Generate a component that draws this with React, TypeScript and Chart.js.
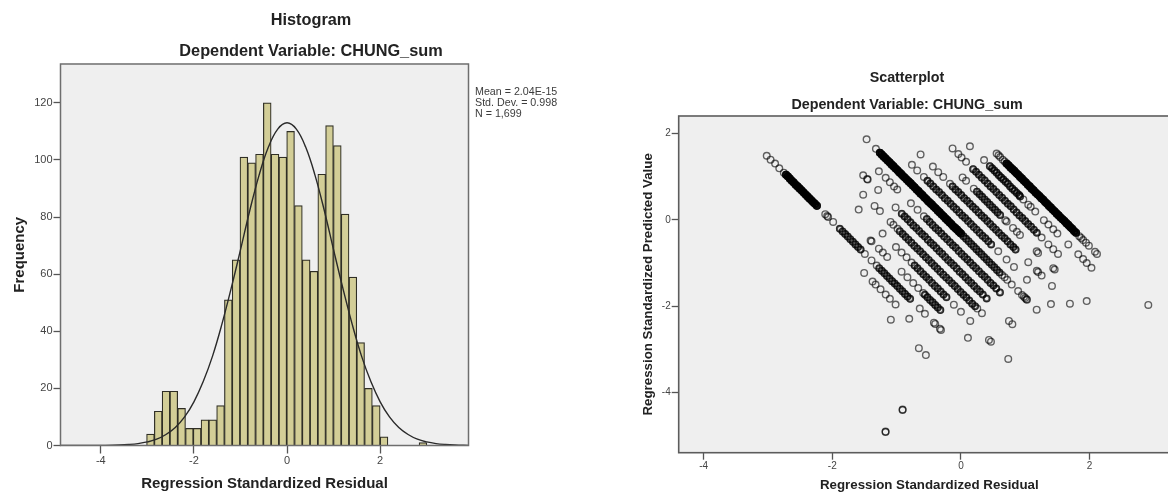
import React, { useEffect, useRef } from "react";
import { Chart, registerables } from "chart.js";

Chart.register(...registerables);

const FONT = "'Liberation Sans', Arial, sans-serif";

// Histogram data
const binCenters = [-2.933, -2.766, -2.599, -2.432, -2.264, -2.097, -1.93, -1.763, -1.596, -1.428, -1.261, -1.094, -0.927, -0.76, -0.592, -0.425, -0.258, -0.091, 0.076, 0.244, 0.411, 0.578, 0.745, 0.912, 1.08, 1.247, 1.414, 1.581, 1.748, 1.916, 2.083, 2.919];
const binCounts = [4, 12, 19, 19, 13, 6, 6, 9, 9, 14, 51, 65, 101, 99, 102, 120, 102, 101, 110, 84, 65, 61, 95, 112, 105, 81, 59, 36, 20, 14, 3, 1];
const curveX = [-4.87, -4.2, -3.9, -3.6, -3.4, -3.2, -3, -2.8, -2.6, -2.4, -2.2, -2, -1.8, -1.6, -1.4, -1.2, -1, -0.8, -0.6, -0.4, -0.2, 0, 0.2, 0.4, 0.6, 0.8, 1, 1.2, 1.4, 1.6, 1.8, 2, 2.2, 2.4, 2.6, 2.8, 3, 3.2, 3.4, 3.6, 3.9];
const curveY = [0, 0.02, 0.05, 0.17, 0.35, 0.67, 1.25, 2.2, 3.85, 6.3, 10, 15.3, 22.4, 31.3, 42.4, 55, 68.5, 82.3, 94.7, 104.5, 110.8, 113, 110.8, 104.5, 94.7, 82.3, 68.5, 55, 42.4, 31.3, 22.4, 15.3, 10, 6.3, 3.85, 2.2, 1.25, 0.67, 0.35, 0.17, 0.05];
const histYTicks = [0, 20, 40, 60, 80, 100, 120];
const residualTicks = [-4, -2, 0, 2];
const statLines = ["Mean = 2.04E-15", "Std. Dev. = 0.998", "N = 1,699"];

// Scatterplot data: [residual, predicted], read band by band
const bandA: number[][] = [[-3.02,1.48],[-2.96,1.39],[-2.89,1.3],[-2.825,1.19],[-2.754,1.09],[-2.72,1.04],[-2.69,1],[-2.66,0.95],[-2.63,0.9],[-2.6,0.86],[-2.57,0.81],[-2.54,0.77],[-2.51,0.725],[-2.48,0.68],[-2.45,0.635],[-2.42,0.59],[-2.39,0.546],[-2.36,0.5],[-2.33,0.457],[-2.3,0.41],[-2.27,0.368],[-2.24,0.323],[-2.11,0.13],[-2.08,0.085],[-2.065,0.063],[-1.987,-0.05],[-1.883,-0.21],[-1.84,-0.27],[-1.8,-0.33],[-1.76,-0.39],[-1.72,-0.45],[-1.68,-0.51],[-1.64,-0.57],[-1.6,-0.63],[-1.56,-0.69],[-1.494,-0.79],[-1.39,-0.94],[-1.31,-1.06],[-1.27,-1.12],[-1.23,-1.18],[-1.19,-1.24],[-1.15,-1.3],[-1.11,-1.36],[-1.07,-1.42],[-1.03,-1.475],[-0.99,-1.535],[-0.95,-1.595],[-0.91,-1.655],[-0.87,-1.715],[-0.83,-1.775],[-0.79,-1.83],[-0.64,-2.055],[-0.56,-2.175],[-0.42,-2.38],[-0.4,-2.41],[-0.327,-2.52],[-0.31,-2.55]];
const bandB: number[][] = [[-1.405,-0.48],[-1.39,-0.5],[-1.276,-0.67],[-1.214,-0.76],[-1.147,-0.86],[-0.923,-1.2],[-0.832,-1.33],[-0.742,-1.465],[-0.664,-1.58],[-0.587,-1.695],[-0.56,-1.735],[-0.52,-1.795],[-0.48,-1.855],[-0.44,-1.91],[-0.4,-1.97],[-0.36,-2.03],[-0.32,-2.09],[0.109,-2.73]];
const bandC: number[][] = [[-1.59,0.235],[-1.218,-0.32],[-1.01,-0.63],[-0.923,-0.76],[-0.845,-0.87],[-0.767,-0.99],[-0.72,-1.06],[-0.675,-1.12],[-0.63,-1.19],[-0.585,-1.26],[-0.54,-1.325],[-0.495,-1.39],[-0.45,-1.46],[-0.405,-1.53],[-0.36,-1.59],[-0.315,-1.66],[-0.27,-1.73],[-0.225,-1.79],[-0.11,-1.965],[0,-2.13],[0.145,-2.34],[0.436,-2.78],[0.467,-2.82],[0.736,-3.22]];
const bandD: number[][] = [[-1.52,0.58],[-1.343,0.32],[-1.26,0.2],[-1.094,-0.05],[-1.05,-0.115],[-0.985,-0.21],[-0.95,-0.265],[-0.905,-0.33],[-0.86,-0.4],[-0.815,-0.465],[-0.77,-0.53],[-0.725,-0.6],[-0.68,-0.665],[-0.635,-0.73],[-0.59,-0.8],[-0.545,-0.87],[-0.5,-0.93],[-0.455,-1],[-0.41,-1.07],[-0.365,-1.135],[-0.32,-1.2],[-0.275,-1.27],[-0.23,-1.335],[-0.185,-1.4],[-0.14,-1.47],[-0.095,-1.535],[-0.05,-1.6],[-0.005,-1.67],[0.04,-1.735],[0.085,-1.8],[0.13,-1.87],[0.175,-1.94],[0.22,-2],[0.254,-2.055],[0.327,-2.16]];
const bandE: number[][] = [[-1.52,1.03],[-1.458,0.94],[-1.45,0.93],[-1.287,0.69],[-1.016,0.285],[-0.92,0.14],[-0.875,0.075],[-0.83,0.01],[-0.785,-0.06],[-0.74,-0.13],[-0.695,-0.19],[-0.65,-0.26],[-0.605,-0.33],[-0.56,-0.39],[-0.515,-0.46],[-0.47,-0.53],[-0.425,-0.59],[-0.38,-0.66],[-0.335,-0.73],[-0.29,-0.79],[-0.245,-0.86],[-0.2,-0.93],[-0.155,-0.995],[-0.11,-1.06],[-0.065,-1.13],[-0.02,-1.2],[0.025,-1.26],[0.07,-1.33],[0.115,-1.4],[0.16,-1.46],[0.205,-1.53],[0.25,-1.6],[0.295,-1.66],[0.34,-1.73],[0.4,-1.82],[0.747,-2.34],[0.8,-2.415]];
const bandF: number[][] = [[-1.276,1.12],[-1.17,0.97],[-1.105,0.87],[-1.04,0.77],[-0.99,0.7],[-0.778,0.38],[-0.674,0.23],[-0.576,0.08],[-0.53,0.015],[-0.485,-0.05],[-0.44,-0.12],[-0.395,-0.19],[-0.35,-0.25],[-0.305,-0.32],[-0.26,-0.39],[-0.215,-0.45],[-0.17,-0.52],[-0.125,-0.59],[-0.08,-0.65],[-0.035,-0.72],[0.01,-0.79],[0.055,-0.855],[0.1,-0.92],[0.145,-0.99],[0.19,-1.06],[0.235,-1.12],[0.28,-1.19],[0.325,-1.26],[0.37,-1.32],[0.415,-1.39],[0.46,-1.46],[0.505,-1.52],[0.55,-1.59],[0.607,-1.68]];
const bandG: number[][] = [[-1.467,1.86],[-1.322,1.64],[-1.26,1.55],[-1.23,1.505],[-1.2,1.46],[-1.17,1.415],[-1.14,1.37],[-1.11,1.33],[-1.08,1.28],[-1.05,1.24],[-1.02,1.19],[-0.99,1.15],[-0.96,1.1],[-0.93,1.06],[-0.9,1.01],[-0.87,0.97],[-0.84,0.925],[-0.81,0.88],[-0.78,0.84],[-0.75,0.79],[-0.72,0.75],[-0.69,0.7],[-0.66,0.66],[-0.63,0.61],[-0.6,0.57],[-0.57,0.52],[-0.54,0.48],[-0.51,0.43],[-0.48,0.39],[-0.45,0.35],[-0.42,0.3],[-0.39,0.26],[-0.36,0.21],[-0.33,0.17],[-0.3,0.12],[-0.27,0.08],[-0.24,0.03],[-0.21,-0.01],[-0.18,-0.06],[-0.15,-0.1],[-0.12,-0.15],[-0.09,-0.19],[-0.06,-0.23],[-0.03,-0.28],[0,-0.32],[0.04,-0.38],[0.08,-0.44],[0.12,-0.5],[0.16,-0.56],[0.2,-0.62],[0.24,-0.68],[0.28,-0.74],[0.32,-0.8],[0.36,-0.86],[0.4,-0.92],[0.44,-0.98],[0.48,-1.04],[0.52,-1.1],[0.56,-1.16],[0.6,-1.22],[0.64,-1.28],[0.68,-1.33],[0.72,-1.39],[0.79,-1.5],[0.89,-1.65],[0.95,-1.74],[0.98,-1.78],[1,-1.81],[1.02,-1.84],[1.027,-1.85],[1.178,-2.08]];
const bandH: number[][] = [[-0.762,1.27],[-0.68,1.14],[-0.576,0.99],[-0.52,0.9],[-0.475,0.84],[-0.43,0.77],[-0.385,0.7],[-0.34,0.64],[-0.295,0.57],[-0.25,0.5],[-0.205,0.44],[-0.16,0.37],[-0.115,0.3],[-0.07,0.24],[-0.025,0.17],[0.02,0.1],[0.065,0.04],[0.11,-0.03],[0.155,-0.1],[0.2,-0.17],[0.245,-0.23],[0.29,-0.3],[0.335,-0.37],[0.38,-0.43],[0.425,-0.5],[0.47,-0.57],[0.58,-0.73],[0.71,-0.92],[0.825,-1.09],[1.027,-1.39],[1.4,-1.95]];
const bandI: number[][] = [[-0.627,1.51],[-0.436,1.23],[-0.353,1.1],[-0.275,0.99],[-0.17,0.83],[-0.13,0.77],[-0.085,0.7],[-0.04,0.64],[0.005,0.57],[0.05,0.5],[0.095,0.44],[0.14,0.37],[0.185,0.3],[0.23,0.24],[0.275,0.17],[0.32,0.1],[0.365,0.04],[0.41,-0.03],[0.455,-0.1],[0.5,-0.17],[0.545,-0.23],[0.59,-0.3],[0.635,-0.37],[0.68,-0.43],[0.725,-0.5],[0.77,-0.57],[0.815,-0.63],[0.85,-0.69],[1.047,-0.98],[1.18,-1.18],[1.2,-1.21],[1.255,-1.29],[1.416,-1.53],[1.695,-1.94]];
const bandJ: number[][] = [[0.026,0.98],[0.08,0.9],[0.2,0.72],[0.25,0.65],[0.29,0.59],[0.33,0.53],[0.37,0.47],[0.41,0.41],[0.45,0.35],[0.49,0.29],[0.53,0.23],[0.57,0.17],[0.61,0.11],[0.69,-0.01],[0.71,-0.04],[0.81,-0.19],[0.87,-0.28],[0.918,-0.35],[1.178,-0.73],[1.2,-0.77],[1.436,-1.12],[1.458,-1.15]];
const bandK: number[][] = [[-0.13,1.65],[-0.04,1.52],[0.01,1.44],[0.08,1.34],[0.19,1.17],[0.235,1.11],[0.28,1.04],[0.325,0.97],[0.37,0.91],[0.415,0.84],[0.46,0.77],[0.505,0.71],[0.55,0.64],[0.595,0.57],[0.64,0.51],[0.685,0.44],[0.73,0.37],[0.775,0.31],[0.82,0.24],[0.865,0.17],[0.91,0.1],[0.955,0.04],[1,-0.03],[1.045,-0.1],[1.09,-0.16],[1.135,-0.23],[1.18,-0.3],[1.255,-0.41],[1.36,-0.57],[1.436,-0.68],[1.51,-0.79]];
const bandL: number[][] = [[0.14,1.7],[0.36,1.38],[0.45,1.24],[0.485,1.19],[0.52,1.14],[0.555,1.09],[0.59,1.03],[0.625,0.98],[0.66,0.93],[0.695,0.88],[0.73,0.83],[0.765,0.77],[0.8,0.72],[0.835,0.67],[0.87,0.62],[0.905,0.57],[0.92,0.54],[0.97,0.47],[1.047,0.35],[1.085,0.3],[1.156,0.19],[1.29,-0.01],[1.36,-0.11],[1.436,-0.22],[1.5,-0.32],[1.67,-0.57],[1.825,-0.8],[1.9,-0.91],[1.956,-1],[2.03,-1.11]];
const bandM: number[][] = [[0.555,1.53],[0.585,1.49],[0.61,1.45],[0.65,1.39],[0.68,1.35],[0.71,1.3],[0.74,1.26],[0.77,1.21],[0.8,1.17],[0.83,1.13],[0.86,1.08],[0.89,1.04],[0.92,0.99],[0.95,0.95],[0.98,0.9],[1.01,0.86],[1.04,0.81],[1.07,0.77],[1.1,0.72],[1.13,0.68],[1.16,0.63],[1.19,0.59],[1.22,0.55],[1.25,0.5],[1.28,0.46],[1.31,0.41],[1.34,0.37],[1.37,0.32],[1.4,0.28],[1.43,0.23],[1.46,0.19],[1.49,0.14],[1.52,0.1],[1.55,0.05],[1.58,0.01],[1.61,-0.03],[1.64,-0.08],[1.67,-0.12],[1.7,-0.17],[1.73,-0.21],[1.76,-0.26],[1.79,-0.3],[1.84,-0.38],[1.87,-0.42],[1.9,-0.47],[1.945,-0.53],[1.99,-0.6],[2.085,-0.74],[2.116,-0.79]];
const bandN: number[][] = [[-1.505,-1.23],[-1.374,-1.43],[-1.327,-1.5],[-1.25,-1.61],[-1.17,-1.73],[-1.105,-1.83],[-1.016,-1.96],[-0.804,-2.29]];
const outliers: number[][] = [[-1.09,-2.31],[-0.654,-2.97],[-0.545,-3.13],[1.956,-1.88],[2.914,-1.97],[-0.907,-4.39],[-0.907,-4.4],[-1.172,-4.9],[-1.172,-4.91]];
const scatterBands = [bandA, bandB, bandC, bandD, bandE, bandF, bandG, bandH, bandI, bandJ, bandK, bandL, bandM, bandN, outliers];
// Stretches where many cases overlap: solid black, then mottled
const solidRuns = [bandA.slice(5, 22), bandG.slice(2, 45), bandM.slice(5, 42)];
const mottledRuns = [bandA.slice(26, 35), bandA.slice(38, 51), bandB.slice(10, 17), bandC.slice(6, 18), bandD.slice(6, 33), bandE.slice(5, 35), bandF.slice(8, 34), bandG.slice(45, 60), bandH.slice(3, 26), bandI.slice(5, 28), bandJ.slice(3, 13), bandK.slice(4, 27), bandL.slice(2, 17)];
const predictedTicks = [-4, -2, 0, 2];

const frame = (color: string, width: number) => ({
  id: "frame",
  beforeDraw(c: any) {
    const a = c.chartArea;
    c.ctx.save();
    c.ctx.fillStyle = "#efefef";
    c.ctx.fillRect(a.left, a.top, a.width, a.height);
    c.ctx.restore();
  },
  afterDatasetsDraw(c: any) {
    const a = c.chartArea;
    c.ctx.save();
    c.ctx.strokeStyle = color;
    c.ctx.lineWidth = width;
    c.ctx.strokeRect(a.left, a.top, a.width, a.height);
    c.ctx.restore();
  },
});

const statsText = {
  id: "statsText",
  afterDraw(c: any) {
    const ctx = c.ctx;
    ctx.save();
    ctx.font = `10.7px ${FONT}`;
    ctx.fillStyle = "#3c3c3c";
    ctx.textBaseline = "middle";
    statLines.forEach((t, i) => ctx.fillText(t, c.chartArea.right + 6.5, 91.7 + i * 11.2));
    ctx.restore();
  },
};

function axis(opts: any) {
  return {
    type: "linear",
    min: opts.min,
    max: opts.max,
    offset: false,
    border: { display: false },
    grid: { offset: false, drawOnChartArea: false, drawTicks: true, tickLength: opts.tickLength, tickColor: "#555", tickWidth: 1.3 },
    afterBuildTicks(s: any) {
      s.ticks = opts.ticks.map((value: number) => ({ value }));
    },
    afterFit(s: any) {
      if (opts.width) s.width = opts.width;
      if (opts.height) s.height = opts.height;
    },
    ticks: { autoSkip: false, padding: opts.tickPad, maxRotation: 0, color: "#444", font: { family: FONT, size: opts.tickSize }, callback: (v: number) => String(v) },
    title: { display: true, text: opts.title, color: "#222", padding: opts.titlePad, font: { family: FONT, size: opts.titleSize, weight: "bold", lineHeight: 1.2 } },
  };
}

// Empty strip on the right, so that the chart title stays centred on the whole canvas
function rightStrip(width: number) {
  return {
    type: "linear",
    position: "right",
    display: true,
    grid: { display: false },
    border: { display: false },
    ticks: { display: false },
    afterFit(s: any) {
      s.width = width;
    },
  };
}

function titleOptions(text: string[], size: number, lh: number, top: number, bottom: number) {
  return {
    display: true,
    text,
    color: "#222",
    padding: { top, bottom },
    font: { family: FONT, size, weight: "bold", lineHeight: lh },
  };
}

const toPoints = (runs: number[][][]) => runs.flat().map((p) => ({ x: p[0], y: p[1] }));

export default function App() {
  const histRef = useRef<HTMLCanvasElement>(null);
  const scatRef = useRef<HTMLCanvasElement>(null);

  useEffect(() => {
    const hist = new Chart(histRef.current as any, {
      type: "bar",
      data: {
        datasets: [
          {
            type: "line",
            data: curveX.map((x, i) => ({ x, y: curveY[i] })),
            borderColor: "#2a2a2a",
            borderWidth: 1.4,
            pointRadius: 0,
            tension: 0.4,
            order: 0,
          },
          {
            type: "bar",
            data: binCenters.map((x, i) => ({ x, y: binCounts[i] })),
            backgroundColor: "#d3ce97",
            borderColor: "#2f2e25",
            borderWidth: 1.2,
            categoryPercentage: 1,
            barPercentage: 1,
            order: 1,
          },
        ] as any,
      },
      options: {
        responsive: false,
        animation: false,
        plugins: {
          legend: { display: false },
          tooltip: { enabled: false },
          title: titleOptions(["Histogram", "Dependent Variable: CHUNG_sum"], 16.3, 1.871, 5.75, -2.75),
        },
        scales: {
          x: axis({ min: -4.865, max: 3.897, ticks: residualTicks, tickLength: 8, tickPad: 1, tickSize: 11, height: 47.5, title: "Regression Standardized Residual", titleSize: 15, titlePad: { top: 0, bottom: 0 } }),
          y: axis({ min: 0, max: 133.6, ticks: histYTicks, tickLength: 7, tickPad: 1, tickSize: 11, width: 60.5, title: "Frequency", titleSize: 15, titlePad: { top: 11, bottom: 0 } }),
          strip: rightStrip(153.5),
        },
      } as any,
      plugins: [frame("#6e6e6e", 1.5), statsText],
    });

    const ring = { backgroundColor: "rgba(0,0,0,0)", pointStyle: "circle" };
    const scat = new Chart(scatRef.current as any, {
      type: "scatter",
      data: {
        datasets: [
          { ...ring, data: toPoints(scatterBands), borderColor: "rgba(0,0,0,0.6)", borderWidth: 1.4, pointRadius: 3.3 },
          { ...ring, data: toPoints(mottledRuns), borderColor: "rgba(0,0,0,0.62)", borderWidth: 2, pointRadius: 2.8 },
          { ...ring, data: toPoints(solidRuns), borderColor: "rgba(0,0,0,0.92)", borderWidth: 3.2, pointRadius: 2.5 },
        ],
      },
      options: {
        responsive: false,
        animation: false,
        plugins: {
          legend: { display: false },
          tooltip: { enabled: false },
          title: titleOptions(["Scatterplot", "Dependent Variable: CHUNG_sum"], 14.3, 1.888, 64.5, -2.5),
        },
        scales: {
          x: axis({ min: -4.389, max: 3.407, ticks: residualTicks, tickLength: 7, tickPad: 1, tickSize: 10, height: 40.3, title: "Regression Standardized Residual", titleSize: 13.3, titlePad: { top: 0, bottom: 0 } }),
          y: axis({ min: -5.388, max: 2.4, ticks: predictedTicks, tickLength: 7, tickPad: 1, tickSize: 10, width: 58.7, title: "Regression Standardized Predicted Value", titleSize: 13.3, titlePad: { top: 20, bottom: 0 } }),
          strip: rightStrip(14),
        },
      } as any,
      plugins: [frame("#5c5c5c", 1.6)],
    });

    return () => {
      hist.destroy();
      scat.destroy();
    };
  }, []);

  const canvasStyle = (left: number): React.CSSProperties => ({ position: "absolute", left, top: 0, filter: "blur(0.45px)" });

  return (
    <div style={{ position: "absolute", left: 0, top: 0, width: 1168, height: 493, overflow: "hidden", background: "#fff" }}>
      <canvas ref={histRef} width={622} height={493} style={canvasStyle(0)} />
      <canvas ref={scatRef} width={574} height={493} style={canvasStyle(620)} />
    </div>
  );
}
